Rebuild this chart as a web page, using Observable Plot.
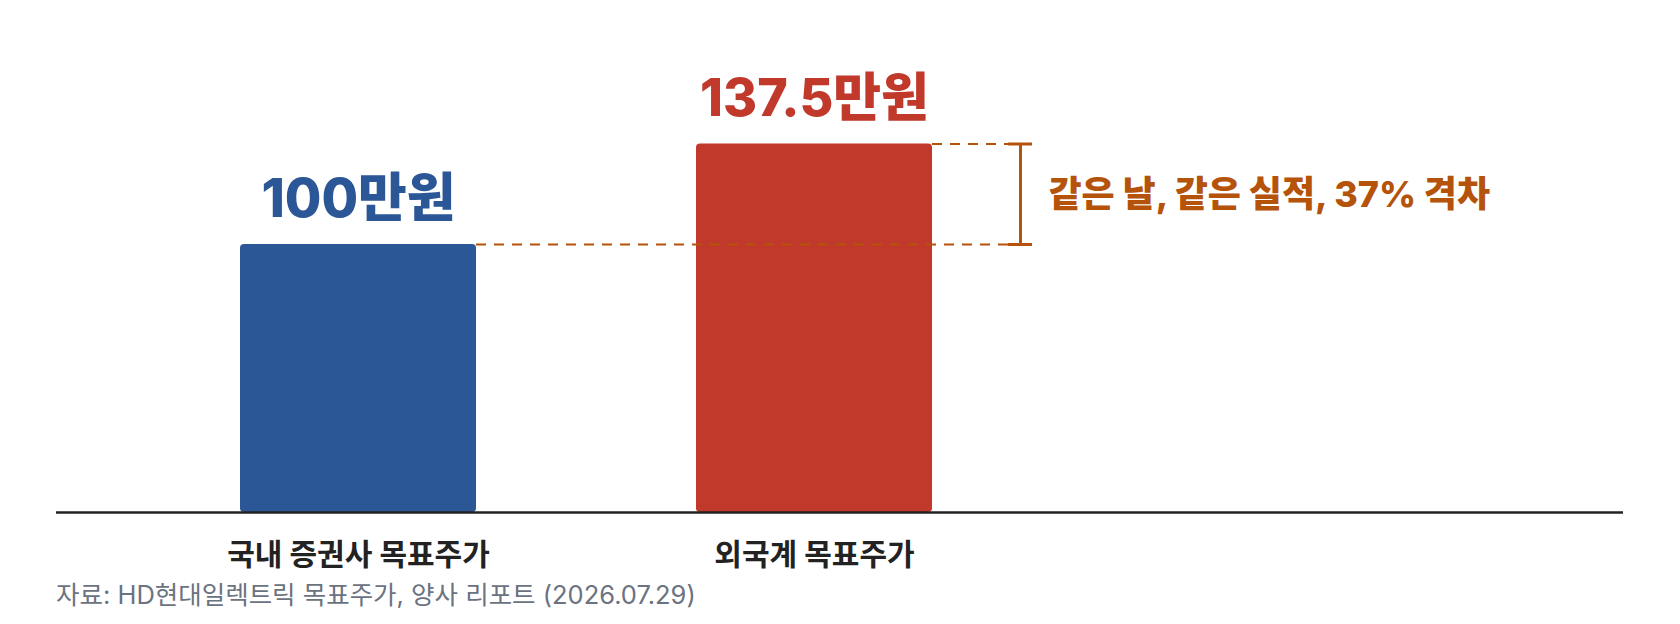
<!DOCTYPE html>
<html lang="ko">
<head>
<meta charset="utf-8">
<script src="https://cdn.jsdelivr.net/npm/d3@7"></script>
<script src="https://cdn.jsdelivr.net/npm/@observablehq/plot@0.6"></script>
<style>
html,body{margin:0;padding:0;background:#fff;}
#chart svg{display:block;}
.caption{font-family:Inter,"Noto Sans CJK KR",sans-serif;font-size:25.5px;color:#6b7280;margin:8px 0 0 56px;line-height:1.2;}
</style>
</head>
<body>
<div id="chart"></div>
<div class="caption" id="caption"></div>
<script>
const categories = ["국내 증권사 목표주가", "외국계 목표주가"];
const targetPrices = [100, 137.5];
const valueLabels = ["100만원", "137.5만원"];
const gapLabel = ["같은 날, 같은 실적, 37% 격차"];
const sourceNote = "자료: HD현대일렉트릭 목표주가, 양사 리포트 (2026.07.29)";

const barColors = ["#2b5797", "#c0392b"];
const accent = "#b45309";
const font = 'Inter, "Noto Sans CJK KR", sans-serif';

const rows = categories.map((c, i) => ({category: c, value: targetPrices[i], label: valueLabels[i]}));
const low = targetPrices[0];
const high = targetPrices[1];
const mid = (low + high) / 2;

const chart = Plot.plot({
  width: 1680,
  height: 572,
  marginTop: 110,
  marginBottom: 60,
  marginLeft: 56,
  marginRight: 57,
  style: {fontFamily: font, background: "#fff", color: "#222"},
  x: {domain: categories, range: [20, 1152], padding: 0.4823, axis: null},
  y: {domain: [0, 150], axis: null},
  color: {domain: categories, range: barColors},
  marks: [
    Plot.barY(rows, {x: "category", y: "value", fill: "category", rx: 4}),
    Plot.ruleY([0], {stroke: "#222", strokeWidth: 2.5}),
    // dashed guide lines
    Plot.ruleY([low], {x1: () => categories[0], x2: () => categories[1], stroke: accent, strokeWidth: 2, strokeDasharray: "10,8", insetLeft: 236, insetRight: -76}),
    Plot.ruleY([high], {x1: () => categories[1], x2: () => categories[1], stroke: accent, strokeWidth: 2, strokeDasharray: "10,8", insetLeft: 236, insetRight: -76}),
    // bracket
    Plot.ruleX([categories[1]], {y1: low, y2: high, stroke: accent, strokeWidth: 3, dx: 206}),
    Plot.tickY([low, high], {x: () => categories[1], stroke: accent, strokeWidth: 3, dx: 206, insetLeft: 106, insetRight: 106}),
    Plot.text(gapLabel, {x: () => categories[1], y: () => mid, text: d => d, textAnchor: "start", lineAnchor: "middle", dx: 234, dy: 1, fill: accent, fontSize: 36, fontWeight: 800}),
    // value labels
    Plot.text(rows, {x: "category", y: "value", text: "label", fill: "category", lineAnchor: "top", dy: -65, fontSize: (d, i) => i === 0 ? 53 : 52, fontWeight: 800}),
    // category axis
    Plot.axisX({tickSize: 0, tickPadding: 31, fontSize: 30, fontWeight: 700, fill: "#222", label: null})
  ]
});

document.getElementById("chart").append(chart);
document.getElementById("caption").textContent = sourceNote;
</script>
</body>
</html>
